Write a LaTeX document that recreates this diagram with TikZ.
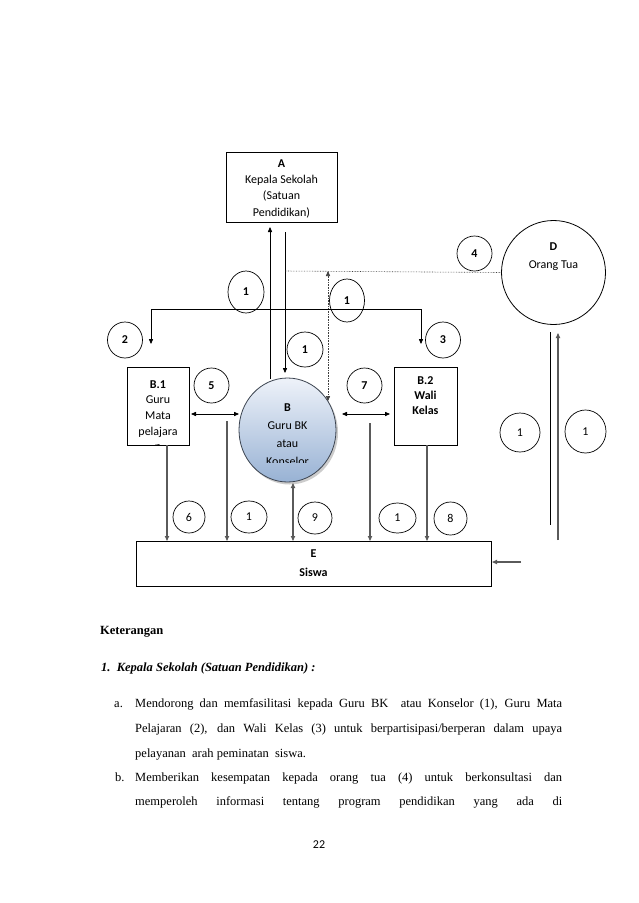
\documentclass[tikz,border=0pt]{standalone}
\usepackage{fontspec}
\setmainfont{Liberation Serif}
\newfontfamily\calfont{Carlito}
\usetikzlibrary{arrows.meta,shapes.geometric,shadows}
\definecolor{lgray}{HTML}{5A5A5A}
\definecolor{btop}{HTML}{EEF2F9}
\definecolor{bbot}{HTML}{98B2D4}
\definecolor{bline}{HTML}{3C4450}
\begin{document}
\begin{tikzpicture}[x=1pt,y=-1pt,
  box/.style={draw, rectangle, line width=0.8pt, inner sep=0},
  txt/.style={align=center, inner sep=0, font=\calfont\fontsize{12}{16.3}\selectfont},
  num/.style={draw, ellipse, line width=0.7pt, inner sep=0, font=\calfont\bfseries\fontsize{12}{13}\selectfont},
  numr/.style={draw, ellipse, line width=0.7pt, inner sep=0, font=\calfont\fontsize{12}{13}\selectfont},
  ln/.style={line width=0.8pt, black},
  gln/.style={line width=1.1pt, lgray},
  tip/.style={-{Triangle[length=5pt,width=4.2pt]}},
  dtip/.style={{Triangle[length=5pt,width=4.2pt]}-{Triangle[length=5pt,width=4.2pt]}},
  dots/.style={densely dotted, line width=0.6pt, black!75},
  body/.style={inner sep=0, anchor=base west, font=\fontsize{12.5}{15}\selectfont}
]
\useasboundingbox (0,0) rectangle (638,903);
\fill[white] (0,0) rectangle (638,903);

% ---------- A ----------
\node[box, minimum width=111pt, minimum height=70pt] (A) at (281.5,187) {};
\node[txt] (At) at (281.5,188.5) {\textbf{A}\\Kepala Sekolah\\(Satuan\\Pendidikan)};

% ---------- D ----------
\node[draw, circle, line width=0.8pt, minimum size=104pt, inner sep=0] (D) at (553.5,272.5) {};
\node[txt, font=\calfont\fontsize{12}{18}\selectfont] (Dt) at (553.5,257) {\textbf{D}\\Orang Tua};

% ---------- B.1 ----------
\node[box, minimum width=62pt, minimum height=78pt] (B1) at (158,406) {};
\begin{scope}
  \clip (127,367) rectangle (189,445);
  \node[txt, font=\calfont\fontsize{12}{15.7}\selectfont] (B1t) at (158,415.5) {\textbf{B.1}\\Guru\\Mata\\pelajara\\n};
\end{scope}

% ---------- B.2 ----------
\node[box, minimum width=63pt, minimum height=78pt] (B2) at (425.5,406) {};
\node[txt, font=\calfont\bfseries\fontsize{12}{15}\selectfont] (B2t) at (425.5,395.5) {B.2\\Wali\\Kelas};

% ---------- B ----------
\node[ellipse, draw=bline, line width=0.8pt, minimum width=97pt, minimum height=104pt, inner sep=0,
      top color=btop, bottom color=bbot,
      drop shadow={opacity=0.4, shadow xshift=2pt, shadow yshift=-2.5pt}] (B) at (287.5,430) {};
\begin{scope}
  \clip (239,395) rectangle (336,462);
  \node[txt, font=\calfont\fontsize{12}{18}\selectfont] (Bt) at (287.5,435) {\textbf{B}\\Guru BK\\atau\\Konselor};
\end{scope}

% ---------- E ----------
\node[box, minimum width=355pt, minimum height=45pt] (E) at (313.5,563.5) {};
\node[txt, font=\calfont\bfseries\fontsize{12}{19}\selectfont] (Et) at (313.5,563) {E\\Siswa};

% ---------- coordinates ----------
\coordinate (upS) at (270,379);   \coordinate (upE) at (270,227);
\coordinate (dnS) at (285,232);   \coordinate (dnE) at (285,373);
\coordinate (dotL) at (285,271);  \coordinate (dotT) at (328,271); \coordinate (dotB) at (328,401);
\coordinate (hL) at (151,309);    \coordinate (hR) at (421,309);
\coordinate (hLd) at (151,344);   \coordinate (hRd) at (421,344);

% ---------- connectors near A ----------
\draw[ln, tip] (upS) -- (upE);
\draw[ln, tip] (dnS) -- (dnE);
\draw[dots] (dotL) -- (D.west);
\draw[dots, dtip] (dotB) -- (dotT);
\draw[ln, tip] (hL) -- (hLd);
\draw[ln] (hL) -- (hR);
\draw[ln, tip] (hR) -- (hRd);

% ---------- horizontal double arrows ----------
\draw[ln, dtip] (191,414) -- (239,414);
\draw[ln, dtip] (342,414) -- (390,414);

% ---------- arrows into E ----------
\draw[gln, tip] (167,445) -- (167,541);
\draw[gln, tip] (227,421) -- (227,541);
\draw[gln, dtip] (293,483) -- (293,541);
\draw[gln, tip] (370,423) -- (370,541);
\draw[gln, tip] (427,445) -- (427,541);

% ---------- right side ----------
\draw[ln] (550,332) -- (550,525);
\draw[gln, tip] (558,540) -- (558,333);
\draw[gln, tip] (521,562) -- (492,562);

% ---------- number circles ----------
\node[num, minimum width=36pt, minimum height=42pt] (n1a) at (246,292) {1};
\node[num, minimum width=35pt, minimum height=43pt] (n1b) at (347,300.5) {1};
\node[num, minimum width=36pt, minimum height=35pt] (n1c) at (305,349.5) {1};
\node[num, minimum width=35pt, minimum height=36pt] (n2) at (125,340) {2};
\node[num, minimum width=35pt, minimum height=36pt] (n3) at (443,340) {3};
\node[num, minimum width=35pt, minimum height=35pt] (n4) at (474.5,253.5) {4};
\node[num, minimum width=35pt, minimum height=35pt] (n5) at (211.5,385.5) {5};
\node[num, minimum width=35pt, minimum height=35pt] (n7) at (364.5,385.5) {7};
\node[numr, minimum width=32pt, minimum height=32pt] (n6) at (189,517) {6};
\node[numr, minimum width=36pt, minimum height=32pt] (n1d) at (249,517) {1};
\node[numr, minimum width=34pt, minimum height=32pt] (n9) at (315,518) {9};
\node[numr, minimum width=37pt, minimum height=30pt] (n1e) at (397.5,518) {1};
\node[numr, minimum width=33pt, minimum height=33pt] (n8) at (450.5,518.5) {8};
\node[numr, minimum width=40pt, minimum height=39pt] (n1f) at (520,432.5) {1};
\node[numr, minimum width=41pt, minimum height=43pt] (n1g) at (585.5,431.5) {1};

% ---------- text below ----------
\node[body] (k0) at (100,634) {\textbf{Keterangan}};
\node[body] (k1) at (101,671) {\textbf{\textit{1.\ \ Kepala Sekolah (Satuan Pendidikan) :}}};
\node[body] (ka) at (114,707) {a.};
\node[body] (ka1) at (135,707) {\makebox[427pt][s]{Mendorong dan memfasilitasi kepada Guru BK\ \ atau Konselor (1), Guru Mata}};
\node[body] (ka2) at (135,732) {\makebox[427pt][s]{Pelajaran (2), dan Wali Kelas (3) untuk berpartisipasi/berperan dalam upaya}};
\node[body] (ka3) at (135,757) {pelayanan\ \ arah peminatan\ \ siswa.};
\node[body] (kb) at (115,781) {b.};
\node[body] (kb1) at (135,781) {\makebox[427pt][s]{Memberikan kesempatan kepada orang tua (4) untuk berkonsultasi dan}};
\node[body] (kb2) at (135,805) {\makebox[427pt][s]{memperoleh informasi tentang program pendidikan yang ada di}};
\node[inner sep=0, anchor=base, font=\calfont\fontsize{12}{13}\selectfont] (pg) at (319,848) {22};
\end{tikzpicture}
\end{document}
